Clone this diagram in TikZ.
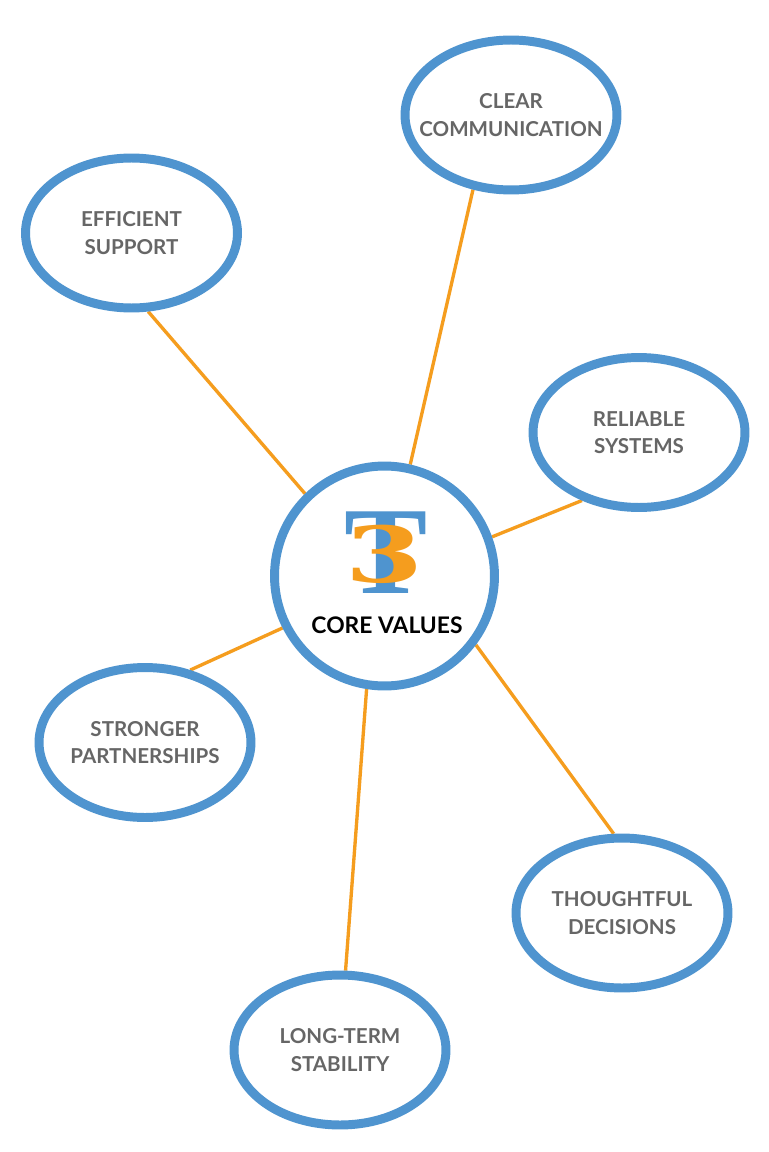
\documentclass[tikz,border=0pt]{standalone}
\usepackage{fontspec}
\setmainfont{Lato}
\newfontfamily\logoserif{Liberation Serif}
\newfontfamily\logodigit{DejaVu Serif}
\usetikzlibrary{shapes.geometric,backgrounds}
\definecolor{ringblue}{HTML}{4F94CF}
\definecolor{linkorange}{HTML}{F59D1E}
\definecolor{labelgray}{HTML}{666666}
\tikzset{
  value/.style={ellipse, draw=ringblue, line width=5.1pt, fill=white,
    minimum width=4.24cm, minimum height=3.0cm, inner sep=0pt},
  valtext/.style={inner sep=0pt, text=labelgray, align=center,
    font=\fontsize{11.7}{15.5}\selectfont\bfseries},
  hub/.style={circle, draw=ringblue, line width=5.1pt, fill=white,
    minimum size=4.4cm, inner sep=0pt},
  link/.style={linkorange, line width=1.9pt},
}
\begin{document}
\begin{tikzpicture}[x=0.02cm,y=-0.02cm]
\useasboundingbox (0,0) rectangle (768,1152);
\node[hub] (core) at (384.5,576) {};
\node[value] (clear) at (511,115) {};
\node[value] (eff) at (131.5,233) {};
\node[value] (rel) at (639,432.5) {};
\node[value] (str) at (145,742.5) {};
\node[value] (tho) at (622,913) {};
\node[value] (lng) at (340,1050) {};
\node[valtext] (clear-t) at (clear) {CLEAR\\COMMUNICATION};
\node[valtext] (eff-t) at (eff) {EFFICIENT\\SUPPORT};
\node[valtext] (rel-t) at (rel) {RELIABLE\\SYSTEMS};
\node[valtext] (str-t) at (str) {STRONGER\\PARTNERSHIPS};
\node[valtext] (tho-t) at (tho) {THOUGHTFUL\\DECISIONS};
\node[valtext] (lng-t) at (lng) {LONG-TERM\\STABILITY};
\node[anchor=base, inner sep=0pt] (logo) at (386,593)
  {\makebox[0pt]{\color{ringblue}\logoserif\bfseries\fontsize{71}{71}\selectfont T}%
   \makebox[0pt]{\raisebox{5.7pt}{\color{linkorange}\logodigit\bfseries\fontsize{44}{44}\selectfont\hspace{-2pt}\scalebox{1.45}[1]{3}}}};
\node[anchor=base, inner sep=0pt, text=black,
  font=\fontsize{13}{15}\selectfont\bfseries] (core-t) at (387,633) {CORE VALUES};
\begin{pgfonlayer}{background}
\fill[white] (0,0) rectangle (768,1152);
\draw[link] (clear.243) -- (core.77);
\draw[link] (eff.282) -- (core.134);
\draw[link] (rel.230) -- (core.20);
\draw[link] (str.58) -- (core.207);
\draw[link] (tho.96) -- (core.323);
\draw[link] (lng.86) -- (core.261);
\end{pgfonlayer}
\end{tikzpicture}
\end{document}
